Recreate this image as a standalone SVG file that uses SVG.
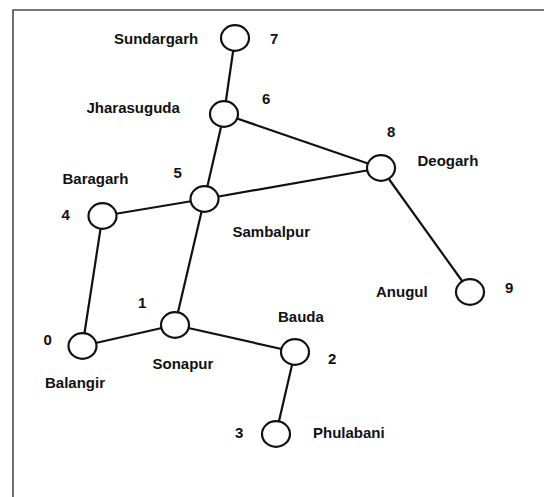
<svg xmlns="http://www.w3.org/2000/svg" width="544" height="497" viewBox="0 0 544 497">
  <style>
    .frame { stroke: #4a4a4a; stroke-width: 1.6; fill: none; }
    .edge { stroke: #111; stroke-width: 2.2; fill: none; }
    .node ellipse { fill: #fff; stroke: #111; stroke-width: 2.2; }
    text { font-family: "Liberation Sans", Arial, sans-serif; font-weight: bold; font-size: 15px; fill: #111; }
  </style>
  <rect width="544" height="497" fill="#fff"/>
  <!-- page frame: top and left rules only -->
  <path class="frame" d="M13 497 V10 H544"/>

  <g id="connectors">
    <line class="edge" x1="235" y1="38" x2="224" y2="114"/>
    <line class="edge" x1="224" y1="114" x2="381" y2="168"/>
    <line class="edge" x1="224" y1="114" x2="204.5" y2="199"/>
    <line class="edge" x1="204.5" y1="199" x2="381" y2="168"/>
    <line class="edge" x1="204.5" y1="199" x2="102.5" y2="216"/>
    <line class="edge" x1="102.5" y1="216" x2="82.5" y2="346"/>
    <line class="edge" x1="204.5" y1="199" x2="175" y2="325"/>
    <line class="edge" x1="381" y1="168" x2="470" y2="292"/>
    <line class="edge" x1="82.5" y1="346" x2="175" y2="325"/>
    <line class="edge" x1="175" y1="325" x2="295" y2="352"/>
    <line class="edge" x1="295" y1="352" x2="276" y2="434"/>
  </g>

  <g id="node-7" class="node">
    <ellipse cx="235" cy="38" rx="14" ry="12.8"/>
    <text x="114" y="44">Sundargarh</text>
    <text x="270" y="44">7</text>
  </g>
  <g id="node-6" class="node">
    <ellipse cx="224" cy="114" rx="14" ry="12.8"/>
    <text x="86.5" y="113">Jharasuguda</text>
    <text x="262" y="104">6</text>
  </g>
  <g id="node-8" class="node">
    <ellipse cx="381" cy="168" rx="14" ry="12.8"/>
    <text x="387" y="136.5">8</text>
    <text x="417.5" y="165.5">Deogarh</text>
  </g>
  <g id="node-5" class="node">
    <ellipse cx="204.5" cy="199" rx="14" ry="12.8"/>
    <text x="173.5" y="178">5</text>
    <text x="232.5" y="236.5">Sambalpur</text>
  </g>
  <g id="node-4" class="node">
    <ellipse cx="102.5" cy="216" rx="14" ry="12.8"/>
    <text x="62.5" y="183.5">Baragarh</text>
    <text x="61.5" y="220">4</text>
  </g>
  <g id="node-9" class="node">
    <ellipse cx="470" cy="292" rx="14" ry="12.8"/>
    <text x="376" y="296.5">Anugul</text>
    <text x="505" y="292.5">9</text>
  </g>
  <g id="node-1" class="node">
    <ellipse cx="175" cy="325" rx="14" ry="12.8"/>
    <text x="138" y="308">1</text>
    <text x="152.5" y="368.5">Sonapur</text>
  </g>
  <g id="node-0" class="node">
    <ellipse cx="82.5" cy="346" rx="14" ry="12.8"/>
    <text x="43.5" y="345">0</text>
    <text x="45" y="387.5">Balangir</text>
  </g>
  <g id="node-2" class="node">
    <ellipse cx="295" cy="352" rx="14" ry="12.8"/>
    <text x="278" y="321.5">Bauda</text>
    <text x="328" y="364">2</text>
  </g>
  <g id="node-3" class="node">
    <ellipse cx="276" cy="434" rx="14" ry="12.8"/>
    <text x="235" y="437.5">3</text>
    <text x="313" y="437.5">Phulabani</text>
  </g>
</svg>
